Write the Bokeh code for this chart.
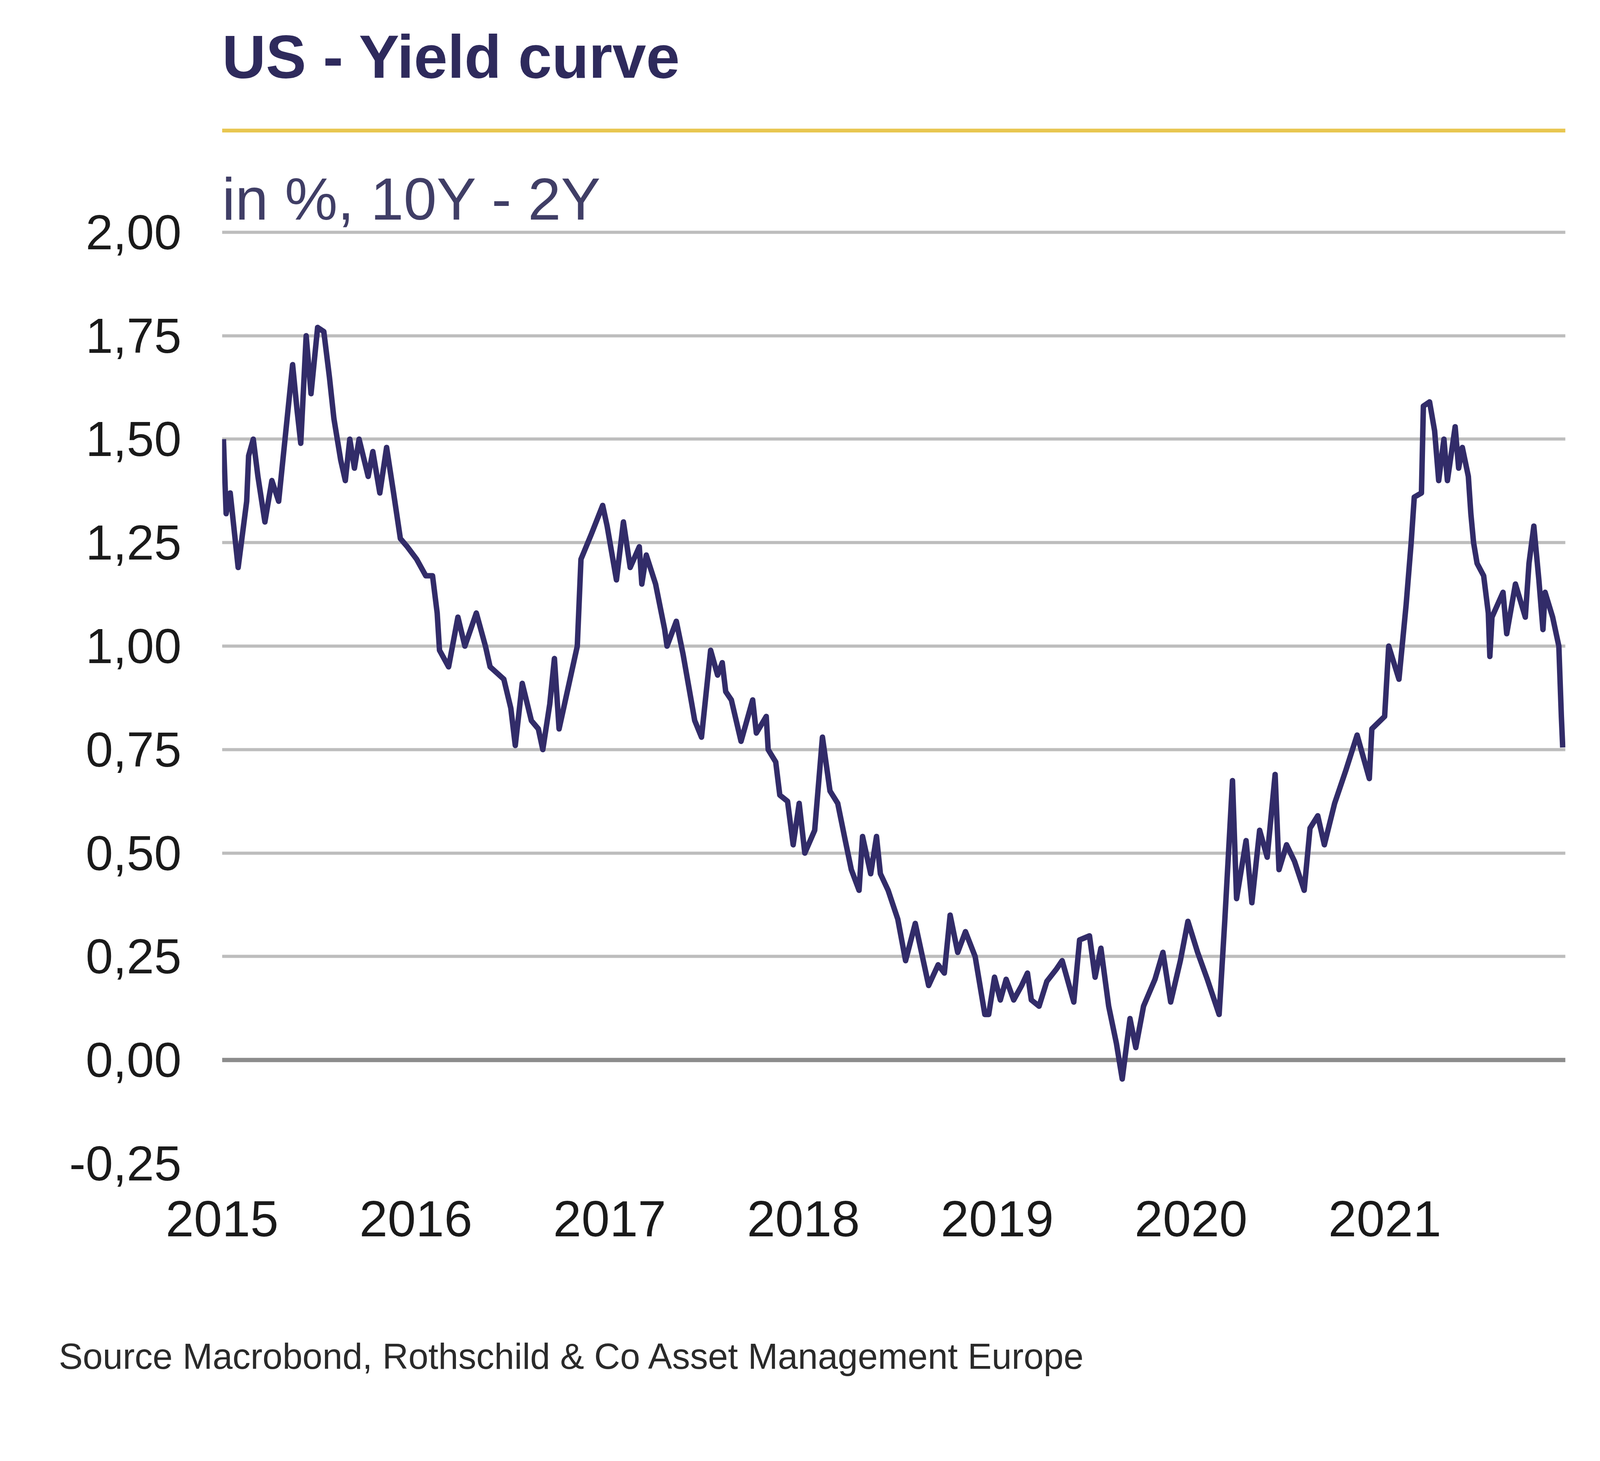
from bokeh.plotting import figure
from bokeh.layouts import column
from bokeh.models import (Range1d, FixedTicker, CustomJSTickFormatter, Label,
                          BoxAnnotation)
from bokeh.embed import file_html
from bokeh.resources import INLINE

# ---------------- data ----------------
# time in decimal years, spread 10Y - 2Y in %
t_2015 = [2015.007, 2015.021, 2015.042, 2015.083, 2015.127, 2015.137, 2015.161, 2015.185, 2015.221, 2015.257,
          2015.292, 2015.327, 2015.364, 2015.387, 2015.406, 2015.434, 2015.459, 2015.493, 2015.525, 2015.554,
          2015.577, 2015.612, 2015.636, 2015.659, 2015.683, 2015.707, 2015.754, 2015.778, 2015.814, 2015.849,
          2015.885, 2015.920, 2015.956]
v_2015 = [1.50, 1.32, 1.37, 1.19, 1.35, 1.46, 1.50, 1.41, 1.30, 1.40,
          1.35, 1.51, 1.68, 1.57, 1.49, 1.75, 1.61, 1.77, 1.76, 1.65,
          1.55, 1.45, 1.40, 1.50, 1.43, 1.50, 1.41, 1.47, 1.37, 1.48,
          1.37, 1.26, 1.24]

t_2016 = [2016.004, 2016.051, 2016.086, 2016.110, 2016.122, 2016.169, 2016.217, 2016.253, 2016.312, 2016.359,
          2016.383, 2016.454, 2016.490, 2016.513, 2016.549, 2016.596, 2016.632, 2016.655, 2016.691, 2016.715,
          2016.739, 2016.786, 2016.833, 2016.852, 2016.905, 2016.964, 2016.987]
v_2016 = [1.21, 1.17, 1.17, 1.08, 0.99, 0.95, 1.07, 1.00, 1.08, 1.00,
          0.95, 0.92, 0.85, 0.76, 0.91, 0.82, 0.80, 0.75, 0.86, 0.97,
          0.80, 0.90, 1.00, 1.21, 1.27, 1.34, 1.29]

t_2017 = [2017.035, 2017.071, 2017.106, 2017.153, 2017.166, 2017.189, 2017.237, 2017.284, 2017.296, 2017.344,
          2017.379, 2017.439, 2017.474, 2017.521, 2017.557, 2017.581, 2017.599, 2017.628, 2017.678, 2017.738,
          2017.757, 2017.808, 2017.818, 2017.857, 2017.878, 2017.918, 2017.947, 2017.978]
v_2017 = [1.16, 1.30, 1.19, 1.24, 1.15, 1.22, 1.15, 1.04, 1.00, 1.06,
          0.98, 0.82, 0.78, 0.99, 0.93, 0.96, 0.89, 0.87, 0.77, 0.87,
          0.79, 0.83, 0.75, 0.72, 0.64, 0.625, 0.52, 0.62]

t_2018 = [2018.007, 2018.058, 2018.098, 2018.137, 2018.177, 2018.216, 2018.247, 2018.287, 2018.305, 2018.347,
          2018.377, 2018.397, 2018.437, 2018.487, 2018.527, 2018.577, 2018.646, 2018.695, 2018.727, 2018.757,
          2018.796, 2018.836, 2018.886, 2018.936, 2018.956, 2018.986]
v_2018 = [0.50, 0.555, 0.78, 0.65, 0.62, 0.53, 0.46, 0.41, 0.54, 0.45,
          0.54, 0.45, 0.41, 0.34, 0.24, 0.33, 0.18, 0.23, 0.21, 0.35,
          0.26, 0.31, 0.25, 0.11, 0.11, 0.20]

t_2019 = [2019.016, 2019.046, 2019.085, 2019.126, 2019.156, 2019.176, 2019.216, 2019.256, 2019.306, 2019.335,
          2019.395, 2019.425, 2019.476, 2019.505, 2019.535, 2019.575, 2019.615, 2019.645, 2019.685, 2019.715,
          2019.755, 2019.814, 2019.855, 2019.895, 2019.945, 2019.984]
v_2019 = [0.145, 0.195, 0.145, 0.18, 0.21, 0.145, 0.13, 0.19, 0.22, 0.24,
          0.14, 0.29, 0.30, 0.20, 0.27, 0.13, 0.04, -0.046, 0.10, 0.03,
          0.13, 0.195, 0.26, 0.14, 0.24, 0.335]

t_2020 = [2020.034, 2020.084, 2020.145, 2020.174, 2020.214, 2020.235, 2020.284, 2020.314, 2020.354, 2020.393,
          2020.434, 2020.454, 2020.493, 2020.534, 2020.584, 2020.614, 2020.654, 2020.688, 2020.741, 2020.799,
          2020.857, 2020.920, 2020.933, 2020.999]
v_2020 = [0.26, 0.195, 0.11, 0.335, 0.675, 0.39, 0.53, 0.38, 0.555, 0.49,
          0.69, 0.46, 0.52, 0.48, 0.41, 0.56, 0.59, 0.52, 0.62, 0.70,
          0.785, 0.68, 0.80, 0.83]

t_2021 = [2021.020, 2021.073, 2021.110, 2021.136, 2021.152, 2021.189, 2021.199, 2021.231, 2021.257, 2021.278,
          2021.305, 2021.323, 2021.363, 2021.381, 2021.400, 2021.431, 2021.444, 2021.458, 2021.476, 2021.510,
          2021.534, 2021.542, 2021.553, 2021.610, 2021.629, 2021.674, 2021.725, 2021.744, 2021.769, 2021.795,
          2021.816, 2021.827, 2021.866, 2021.898, 2021.911, 2021.918]
v_2021 = [1.00, 0.92, 1.10, 1.25, 1.36, 1.37, 1.58, 1.59, 1.52, 1.40,
          1.50, 1.40, 1.53, 1.43, 1.48, 1.41, 1.32, 1.25, 1.20, 1.17,
          1.08, 0.975, 1.07, 1.13, 1.03, 1.15, 1.07, 1.20, 1.29, 1.16,
          1.04, 1.13, 1.07, 1.00, 0.83, 0.755]

x_ticks = [2015, 2016, 2017, 2018, 2019, 2020, 2021]
x_tick_labels = ["2015", "2016", "2017", "2018", "2019", "2020", "2021"]
y_ticks = [-0.25, 0.0, 0.25, 0.5, 0.75, 1.0, 1.25, 1.5, 1.75, 2.0]
y_tick_labels = ["-0,25", "0,00", "0,25", "0,50", "0,75", "1,00", "1,25", "1,50", "1,75", "2,00"]

title_text = "US - Yield curve"
subtitle_text = "in %, 10Y - 2Y"
source_text = "Source Macrobond, Rothschild & Co Asset Management Europe"

t_all = t_2015 + t_2016 + t_2017 + t_2018 + t_2019 + t_2020 + t_2021
v_all = v_2015 + v_2016 + v_2017 + v_2018 + v_2019 + v_2020 + v_2021

# ---------------- styling ----------------
FONT = "Liberation Sans"
NAVY = "#2e2a5c"
LINE = "#322c69"
X_END = 2021.932
Y_TOP = 2.5607   # frame extends up to the top of the canvas (room for the headings)
W = 4085

p = figure(width=W, height=3300, output_backend="svg", toolbar_location=None,
           x_range=Range1d(2015.0, X_END), y_range=Range1d(-0.25, Y_TOP),
           min_border_left=568, min_border_right=78, min_border_top=0,
           min_border_bottom=323)
p.frame_align = False
p.outline_line_color = None
p.background_fill_color = "white"
p.border_fill_color = "white"

# axes
p.xaxis.ticker = FixedTicker(ticks=x_ticks)
p.xaxis.formatter = CustomJSTickFormatter(args=dict(t=x_ticks, l=x_tick_labels),
                                          code="const i = t.indexOf(Math.round(tick)); return i >= 0 ? l[i] : '';")
p.yaxis.ticker = FixedTicker(ticks=y_ticks)
p.yaxis.formatter = CustomJSTickFormatter(args=dict(t=y_ticks, l=y_tick_labels),
                                          code="let best = 0; for (let i = 0; i < t.length; i++) { if (Math.abs(t[i]-tick) < Math.abs(t[best]-tick)) best = i; } return l[best];")
for ax in (p.xaxis[0], p.yaxis[0]):
    ax.axis_line_color = None
    ax.major_tick_line_color = None
    ax.minor_tick_line_color = None
    ax.major_tick_out = 0
    ax.major_tick_in = 0
    ax.major_label_text_font = FONT
    ax.major_label_text_color = "#1a1a1a"
p.xaxis.major_label_text_font_size = "130px"
p.xaxis.major_label_standoff = 96
p.yaxis.major_label_text_font_size = "126px"
p.yaxis.major_label_standoff = 104

# grid
p.xgrid.grid_line_color = None
p.ygrid.ticker = FixedTicker(ticks=[t for t in y_ticks if t != 0.0])
p.ygrid.grid_line_color = "#bdbdbd"
p.ygrid.grid_line_width = 8

# zero line (darker)
p.line(x=[2015.0, X_END], y=[0.0, 0.0], line_color="#8c8c8c", line_width=11)

# series
p.line(x=t_all, y=v_all, line_color=LINE, line_width=14, line_join="round")

# title, yellow rule, subtitle
p.add_layout(Label(x=2015.0, y=2.424, text=title_text, text_font=FONT,
                   text_font_size="155px", text_font_style="bold", text_color=NAVY,
                   text_baseline="alphabetic", text_align="left"))
p.add_layout(BoxAnnotation(left=2015.0, right=X_END, bottom=2.2410, top=2.2502,
                           fill_color="#e8c650", fill_alpha=1.0, line_alpha=0.0))
p.add_layout(Label(x=2015.0, y=2.081, text=subtitle_text, text_font=FONT,
                   text_font_size="152px", text_color="#403e66",
                   text_baseline="alphabetic", text_align="left"))

# footer strip with the source line (pixel coordinates)
FH = 312
f = figure(width=W, height=FH, output_backend="svg", toolbar_location=None,
           x_range=Range1d(0, W), y_range=Range1d(0, FH),
           x_axis_type=None, y_axis_type=None,
           min_border_left=0, min_border_right=0, min_border_top=0, min_border_bottom=0)
f.frame_align = False
f.outline_line_color = None
f.grid.visible = False
f.background_fill_color = "white"
f.border_fill_color = "white"
f.add_layout(Label(x=150, y=141.3, text=source_text,
                   text_font=FONT, text_font_size="92px", text_color="#2a2a2a",
                   text_baseline="alphabetic", text_align="left"))

layout = column(p, f, spacing=0)
open("out.html", "w").write(file_html(layout, INLINE))
